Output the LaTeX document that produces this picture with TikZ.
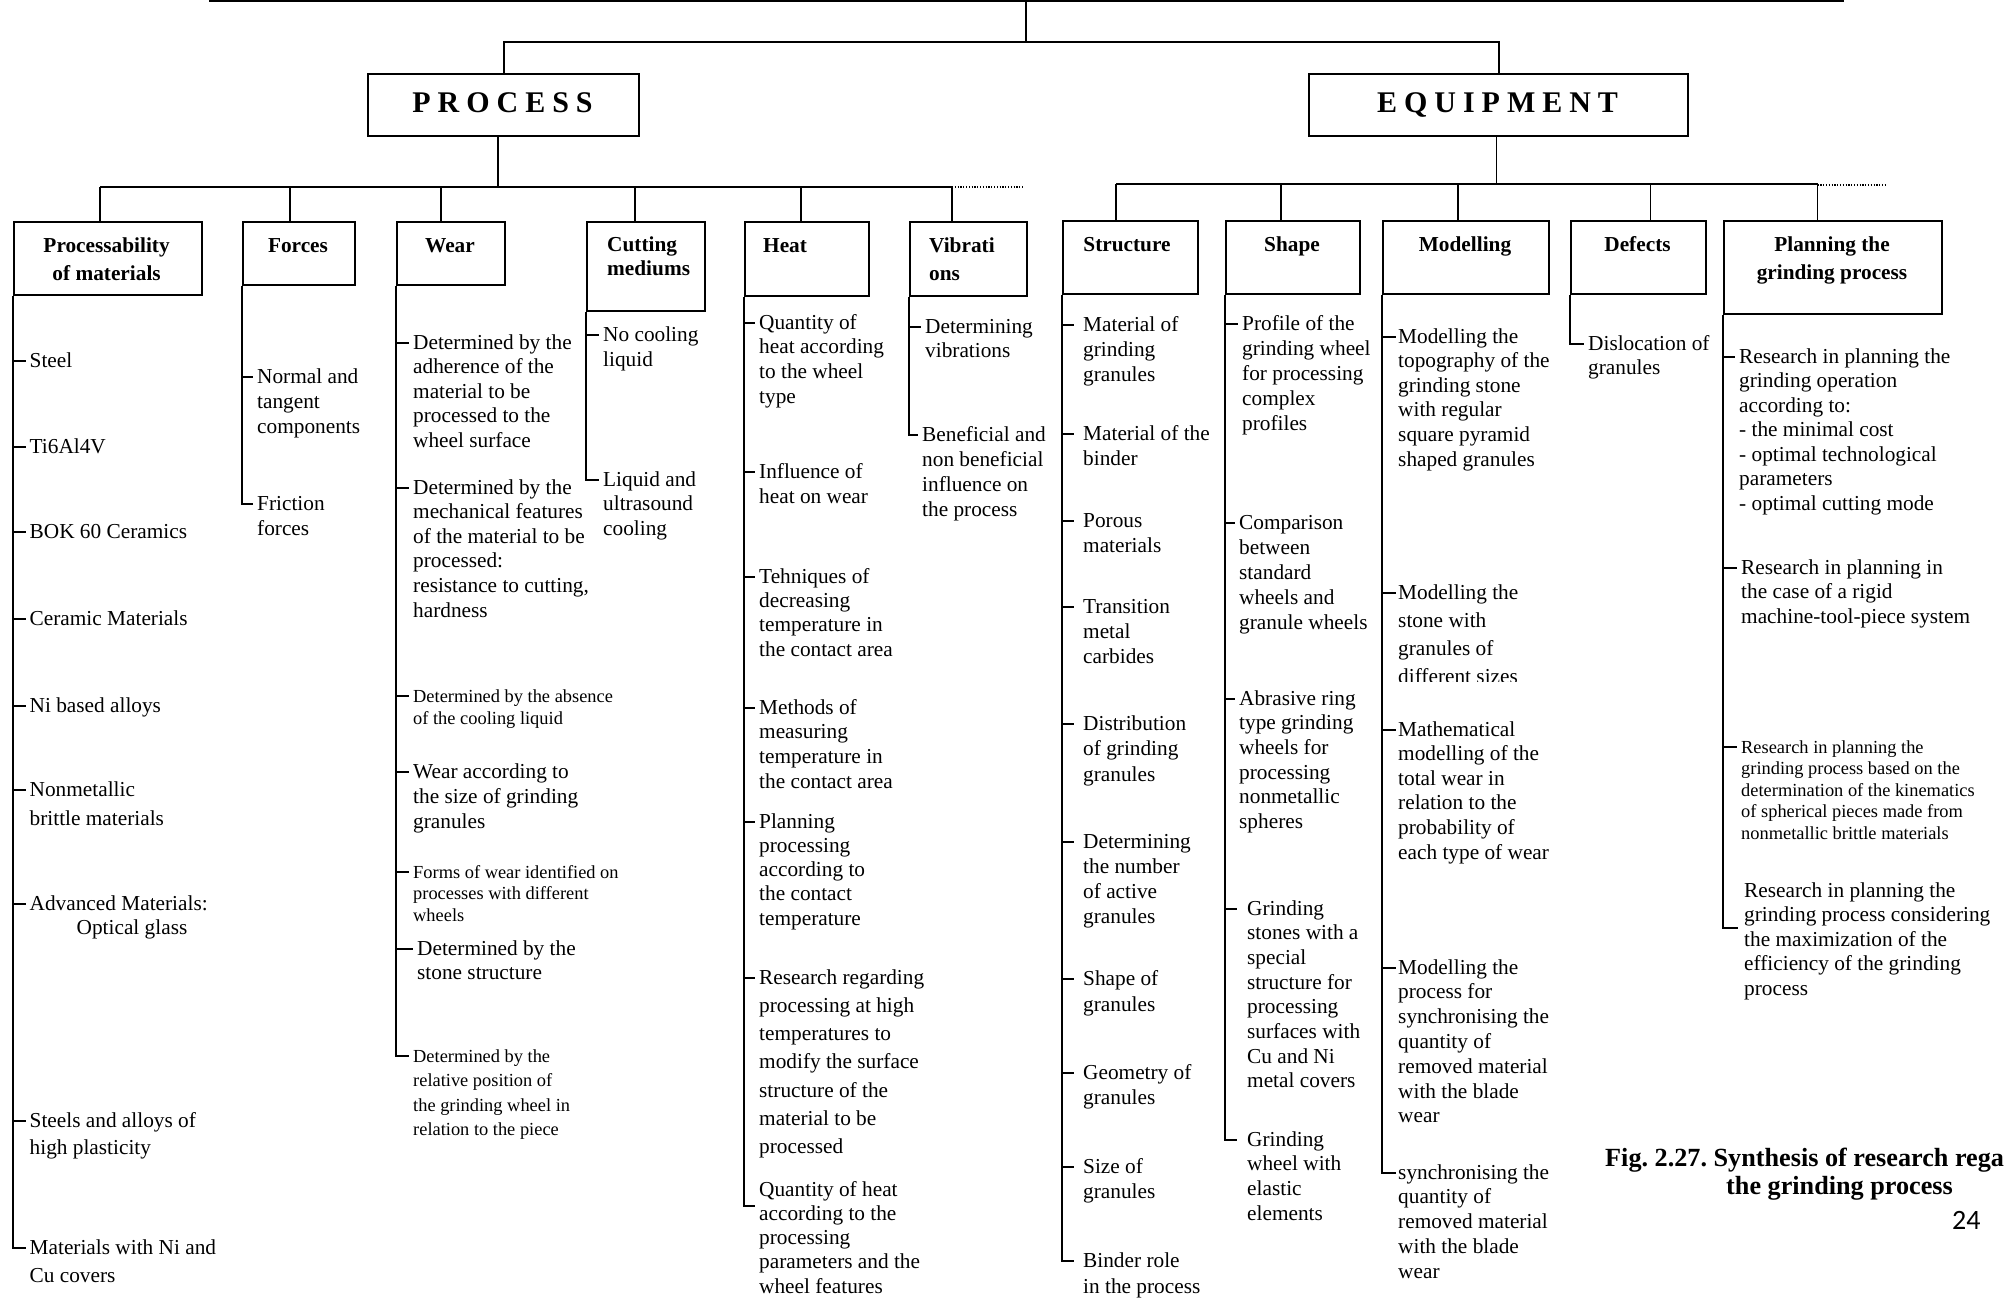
\documentclass[tikz,border=0pt]{standalone}
\usepackage{fontspec}
\setmainfont{Liberation Serif}
\newfontfamily\pagenofont{Carlito}
\frenchspacing

% multi-line text whose baseline is the first line
\newcommand\itemlines[1]{\begin{tabular}[t]{@{}l@{}}#1\end{tabular}}
\newcommand\headlines[1]{\begin{tabular}[t]{@{}c@{}}#1\end{tabular}}

\tikzset{
  link/.style={line width=1.8pt},
  dotext/.style={line width=1.2pt, dash pattern=on 1.2pt off 1.6pt},
  catbox/.style={draw, line width=2.2pt, inner sep=0pt},
  headtext/.style={inner sep=0pt, font=\fontsize{21.3}{#1}\selectfont\bfseries},
  headtext/.default=28,
  leaftext/.style={inner sep=0pt, anchor=base west, font=\fontsize{21.3}{#1}\selectfont},
  leaftext/.default=24.6,
  smalltext/.style={inner sep=0pt, anchor=base west, font=\fontsize{18.4}{#1}\selectfont},
  smalltext/.default=21.5,
  toptext/.style={inner sep=0pt, anchor=base, font=\fontsize{30}{36}\selectfont\bfseries},
  captext/.style={inner sep=0pt, anchor=base west, font=\fontsize{26.2}{30}\selectfont\bfseries},
}

% box given by its corners: name, x1, y1, x2, y2
\newcommand\cellbox[5]{%
  \pgfmathsetmacro\cbw{#4-#2}%
  \pgfmathsetmacro\cbh{#5-#3}%
  \node[catbox, minimum width=\cbw pt, minimum height=\cbh pt, anchor=north west] (#1) at (#2,#3) {};}

% list entry: style, name, x, baseline y, lines
\newcommand\leaf[5][leaftext]{%
  \node[#1] (#2) at (#3,#4) {\itemlines{#5}};
  \coordinate (#2-t) at ([xshift=-4pt,yshift=6pt]#2.base west);}

\begin{document}
\begin{tikzpicture}[x=1pt,y=-1pt]
\useasboundingbox (0,0) rectangle (2011,1298);
\fill[white] (0,0) rectangle (2011,1298);

% ---- top level
\coordinate (topL) at (209,1);
\coordinate (topR) at (1844,1);
\coordinate (rootTop) at (1025.6,1);
\coordinate (rootJ) at (1025.6,41.7);
\draw[link] (topL) -- (topR);
\draw[link] (rootTop) -- (rootJ);

\cellbox{proc}{367}{73}{638}{135}
\cellbox{equip}{1308}{73}{1687}{135}
\node[toptext] (proc-h) at (502.5,112) {P\kern7pt R\kern7pt O\kern7pt C\kern7pt E\kern7pt S\kern7pt S};
\node[toptext] (equip-h) at (1497.5,112) {E\kern7pt Q\kern7pt U\kern7pt I\kern7pt P\kern7pt M\kern7pt E\kern7pt N\kern7pt T};
\draw[link] (proc.north) |- (rootJ);
\draw[link] (equip.north) |- (rootJ);

% ---- process branch
\cellbox{pm}{12.6}{221}{200.6}{294}
\cellbox{fo}{242}{221}{354}{284}
\cellbox{we}{396}{221}{504}{284}
\cellbox{cm}{586}{221}{704}{310}
\cellbox{he}{744}{221}{868}{295}
\cellbox{vi}{909}{221}{1026}{295}

\coordinate (pj) at (498,187);
\draw[link] (pj |- proc.south) -- (pj);
\coordinate (pa) at (100,187);
\coordinate (pb) at (290,187);
\coordinate (pc) at (441,187);
\coordinate (pd) at (635,187);
\coordinate (pe) at (801,187);
\coordinate (pf) at (952,187);
\coordinate (pdots) at (1024,187);
\draw[link] (pa) -- (pf);
\draw[dotext] (pf) -- (pdots);
\draw[link] (pa) -- (pa |- pm.north);
\draw[link] (pb) -- (pb |- fo.north);
\draw[link] (pc) -- (pc |- we.north);
\draw[link] (pd) -- (pd |- cm.north);
\draw[link] (pe) -- (pe |- he.north);
\draw[link] (pf) -- (pf |- vi.north);

\node[headtext, anchor=base] (pm-h) at (106.6,252) {\headlines{Processability\\of materials}};
\node[headtext, anchor=base] (fo-h) at (298,252) {Forces};
\node[headtext, anchor=base] (we-h) at (450,252) {Wear};
\node[headtext=24, anchor=base west] (cm-h) at (607,251) {\itemlines{Cutting\\mediums}};
\node[headtext, anchor=base west] (he-h) at (763,252) {Heat};
\node[headtext, anchor=base west] (vi-h) at (929,252) {\itemlines{Vibrati\\ons}};

% ---- equipment branch
\cellbox{st}{1062}{220}{1197}{293}
\cellbox{sh}{1225}{220}{1359}{293}
\cellbox{mo}{1382}{220}{1548}{293}
\cellbox{de}{1570}{220}{1705}{293}
\cellbox{pl}{1723}{220}{1941}{313}

\coordinate (ej) at (1496.5,184);
\draw[link] (ej |- equip.south) -- (ej);
\coordinate (ea) at (1116,184);
\coordinate (eb) at (1281,184);
\coordinate (ec) at (1458,184);
\coordinate (ed) at (1650.5,184);
\coordinate (ee) at (1817.5,184);
\coordinate (edots) at (1887,185);
\draw[link] (ea) -- (ee);
\draw[dotext] ([yshift=-1pt]ee) -- (edots);
\draw[link] (ea) -- (ea |- st.north);
\draw[link] (eb) -- (eb |- sh.north);
\draw[link] (ec) -- (ec |- mo.north);
\draw[link] (ed) -- (ed |- de.north);
\draw[link] (ee) -- (ee |- pl.north);

\node[headtext, anchor=base] (st-h) at (1127,251) {Structure};
\node[headtext, anchor=base] (sh-h) at (1292,251) {Shape};
\node[headtext, anchor=base] (mo-h) at (1465,251) {Modelling};
\node[headtext, anchor=base] (de-h) at (1637.5,251) {Defects};
\node[headtext, anchor=base] (pl-h) at (1832,251) {\headlines{Planning the\\grinding process}};

% ---- processability of materials
\leaf{p1}{29.5}{367}{Steel}
\leaf{p2}{29.5}{453}{Ti6Al4V}
\leaf{p3}{29.5}{538}{BOK 60 Ceramics}
\leaf{p4}{29.5}{625}{Ceramic Materials}
\leaf{p5}{29.5}{712}{Ni based alloys}
\leaf[leaftext=29]{p6}{29.5}{796}{Nonmetallic\\brittle materials}
\leaf[leaftext=24]{p7}{29.5}{910}{Advanced Materials:\\\hspace*{47pt}Optical glass}
\leaf[leaftext=27.5]{p8}{29.5}{1127}{Steels and alloys of\\high plasticity}
\leaf[leaftext=28]{p9}{29.5}{1254}{Materials with Ni and\\Cu covers}
\foreach \n in {p1,p2,p3,p4,p5,p6,p7,p8} {\draw[link] (\n-t -| pm.south west) -- (\n-t);}
\draw[link] (pm.south west) |- (p9-t);

% ---- forces
\leaf[leaftext=25]{f1}{257}{383}{Normal and\\tangent\\components}
\leaf[leaftext=25]{f2}{257}{510}{Friction\\forces}
\draw[link] (f1-t -| fo.south west) -- (f1-t);
\draw[link] (fo.south west) |- (f2-t);

% ---- wear
\leaf[leaftext=24.5]{w1}{413}{349}{Determined by the\\adherence of the\\material to be\\processed to the\\wheel surface}
\leaf{w2}{413}{494}{Determined by the\\mechanical features\\of the material to be\\processed:\\resistance to cutting,\\hardness}
\leaf[smalltext=22]{w3}{413}{702}{Determined by the absence\\of the cooling liquid}
\leaf[leaftext=25]{w4}{413}{778}{Wear according to\\the size of grinding\\granules}
\leaf[smalltext=21.5]{w5}{413}{878}{Forms of wear identified on\\processes with different\\wheels}
\leaf[leaftext=24]{w6}{417}{955}{Determined by the\\stone structure}
\leaf[smalltext=24.5]{w7}{413}{1062}{Determined by the\\relative position of\\the grinding wheel in\\relation to the piece}
\foreach \n in {w1,w2,w3,w4,w5,w6} {\draw[link] (\n-t -| we.south west) -- (\n-t);}
\draw[link] (we.south west) |- (w7-t);

% ---- cutting mediums
\leaf[leaftext=25]{c1}{603}{341}{No cooling\\liquid}
\leaf[leaftext=24.5]{c2}{603}{486}{Liquid and\\ultrasound\\cooling}
\draw[link] (c1-t -| cm.south west) -- (c1-t);
\draw[link] (cm.south west) |- (c2-t);

% ---- heat
\leaf[leaftext=24.7]{h1}{759}{329}{Quantity of\\heat according\\to the wheel\\type}
\leaf[leaftext=25]{h2}{759}{478}{Influence of\\heat on wear}
\leaf[leaftext=24.4]{h3}{759}{583}{Tehniques of\\decreasing\\temperature in\\the contact area}
\leaf[leaftext=24.7]{h4}{759}{714}{Methods of\\measuring\\temperature in\\the contact area}
\leaf[leaftext=24.3]{h5}{759}{828}{Planning\\processing\\according to\\the contact\\temperature}
\leaf[leaftext=28.3]{h6}{759}{984}{Research regarding\\processing at high\\temperatures to\\modify the surface\\structure of the\\material to be\\processed}
\leaf[leaftext=24.3]{h7}{759}{1196}{Quantity of heat\\according to the\\processing\\parameters and the\\wheel features}
\coordinate (h7-t) at ([xshift=-4pt,yshift=-10pt]h7.base west);
\foreach \n in {h1,h2,h3,h4,h5,h6} {\draw[link] (\n-t -| he.south west) -- (\n-t);}
\draw[link] (he.south west) |- (h7-t);

% ---- vibrations
\leaf[leaftext=24]{v1}{925}{333}{Determining\\vibrations}
\leaf[leaftext=25]{v2}{922}{441}{Beneficial and\\non beneficial\\influence on\\the process}
\draw[link] (v1-t -| vi.south west) -- (v1-t);
\draw[link] (vi.south west) |- (v2-t);

% ---- structure
\leaf[leaftext=25.3]{s1}{1083}{331}{Material of\\grinding\\granules}
\leaf[leaftext=25]{s2}{1083}{440}{Material of the\\binder}
\leaf[leaftext=25]{s3}{1083}{527}{Porous\\materials}
\leaf[leaftext=25]{s4}{1083}{613}{Transition\\metal\\carbides}
\leaf[leaftext=25.5]{s5}{1083}{730}{Distribution\\of grinding\\granules}
\leaf[leaftext=25]{s6}{1083}{848}{Determining\\the number\\of active\\granules}
\leaf[leaftext=26]{s7}{1083}{985}{Shape of\\granules}
\leaf[leaftext=25]{s8}{1083}{1079}{Geometry of\\granules}
\leaf[leaftext=25]{s9}{1083}{1173}{Size of\\granules}
\leaf[leaftext=26]{s10}{1083}{1267}{Binder role\\in the process}
\foreach \n in {s1,s2,s3,s4,s5,s6,s7,s8,s9} {\draw[link] (\n-t -| st.south west) -- ([xshift=-5pt]\n-t);}
\draw[link] (st.south west) |- ([xshift=-5pt]s10-t);

% ---- shape
\leaf[leaftext=25]{sh1}{1242}{330}{Profile of the\\grinding wheel\\for processing\\complex\\profiles}
\leaf[leaftext=25]{sh2}{1239}{529}{Comparison\\between\\standard\\wheels and\\granule wheels}
\leaf[leaftext=24.7]{sh3}{1239}{705}{Abrasive ring\\type grinding\\wheels for\\processing\\nonmetallic\\spheres}
\leaf[leaftext=24.7]{sh4}{1247}{915}{Grinding\\stones with a\\special\\structure for\\processing\\surfaces with\\Cu and Ni\\metal covers}
\leaf[leaftext=24.7]{sh5}{1247}{1146}{Grinding\\wheel with\\elastic\\elements}
\foreach \n in {sh1,sh2,sh3} {\draw[link] (\n-t -| sh.south west) -- (\n-t);}
\draw[link] (sh4-t -| sh.south west) -- ([xshift=-6pt]sh4-t);
\draw[link] (sh.south west) |- ([xshift=-6pt]sh5-t);

% ---- modelling
\leaf[leaftext=24.6]{m1}{1398}{343}{Modelling the\\topography of the\\grinding stone\\with regular\\square pyramid\\shaped granules}
\begin{scope}
  \clip (1390,560) rectangle (1560,681);
  \leaf[leaftext=28.3]{m2}{1398}{599}{Modelling the\\stone with\\granules of\\different sizes}
\end{scope}
\leaf[leaftext=24.6]{m3}{1398}{736}{Mathematical\\modelling of the\\total wear in\\relation to the\\probability of\\each type of wear}
\leaf[leaftext=24.8]{m4}{1398}{974}{Modelling the\\process for\\synchronising the\\quantity of\\removed material\\with the blade\\wear}
\leaf[leaftext=24.8]{m5}{1398}{1179}{synchronising the\\quantity of\\removed material\\with the blade\\wear}
\foreach \n in {m1,m2,m3,m4} {\draw[link] (\n-t -| mo.south west) -- ([xshift=2pt]\n-t);}
\draw[link] (mo.south west) |- ([xshift=2pt]m5-t);

% ---- defects
\leaf[leaftext=24.5]{d1}{1588}{350}{Dislocation of\\granules}
\draw[link] (de.south west) |- (d1-t);

% ---- planning the grinding process
\leaf[leaftext=24.5]{q1}{1739}{363}{Research in planning the\\grinding operation\\according to:\\- the minimal cost\\- optimal technological\\parameters\\- optimal cutting mode}
\leaf[leaftext=24.5]{q2}{1741}{574}{Research in planning in\\the case of a rigid\\machine-tool-piece system}
\leaf[smalltext=21.5]{q3}{1741}{753}{Research in planning the\\grinding process based on the\\determination of the kinematics\\of spherical pieces made from\\nonmetallic brittle materials}
\leaf[leaftext=24.5]{q4}{1744}{897}{Research in planning the\\grinding process considering\\the maximization of the\\efficiency of the grinding\\process}
\coordinate (q4-t) at ([xshift=-6pt,yshift=-31pt]q4.base west);
\foreach \n in {q1,q2,q3} {\draw[link] (\n-t -| pl.south west) -- (\n-t);}
\draw[link] (pl.south west) |- (q4-t);

% ---- caption and page number
\node[captext] (cap1) at (1605,1166) {Fig. 2.27. Synthesis of research rega};
\node[captext] (cap2) at (1726,1194) {the grinding process};
\node[inner sep=0pt, anchor=base west, font=\pagenofont\fontsize{28}{30}\selectfont] (pageno) at (1952,1229) {24};
\end{tikzpicture}
\end{document}
